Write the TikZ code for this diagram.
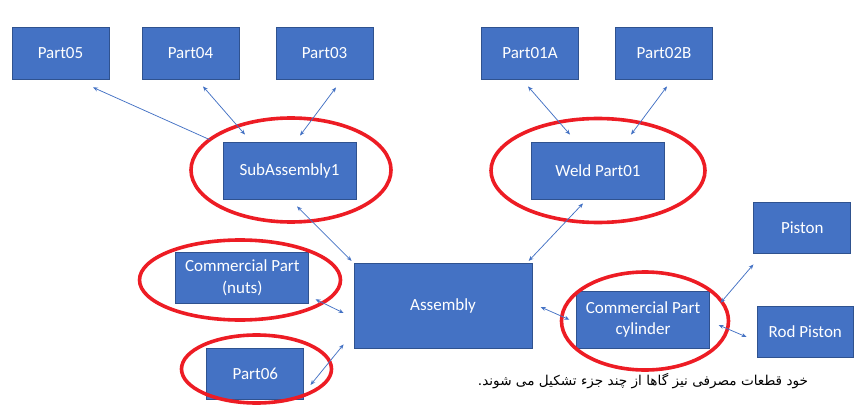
\documentclass[tikz,border=0pt]{standalone}
\usepackage{fontspec}
\setmainfont{Carlito}
\newfontfamily\persianfont[Script=Arabic]{DejaVu Sans}
\TeXXeTstate=1
\usepackage{xcolor}
\definecolor{boxblue}{HTML}{4472C4}
\definecolor{boxedge}{HTML}{2F528F}
\definecolor{ringred}{HTML}{ED1C24}
\usetikzlibrary{positioning,arrows.meta}

\begin{document}
\begin{tikzpicture}[x=1pt, y=-1pt,
  part/.style={rectangle, fill=boxblue, draw=boxedge, line width=0.8pt, text=white, align=center,
    font=\fontsize{17}{21.5}\selectfont, inner sep=2pt},
  ring/.style={draw=ringred, line width=3.6pt},
  link/.style={draw=boxblue, line width=0.75pt, {Stealth[length=5pt,width=4pt]}-{Stealth[length=5pt,width=4pt]}}]
  \useasboundingbox (0,0) rectangle (866,406);
  \node[part, minimum width=97pt, minimum height=52pt] (p05) at (60.5,53) {Part05};
  \node[part, minimum width=97pt, minimum height=52pt] (p04) at (190.5,53) {Part04};
  \node[part, minimum width=97pt, minimum height=52pt] (p03) at (324.5,53) {Part03};
  \node[part, minimum width=97pt, minimum height=52pt] (p01a) at (530,53) {Part01A};
  \node[part, minimum width=97pt, minimum height=52pt] (p02b) at (664,53) {Part02B};
  \node[part, minimum width=133pt, minimum height=57pt] (sub) at (289.5,170.5) {SubAssembly1};
  \node[part, minimum width=133pt, minimum height=57pt] (weld) at (598,170.5) {Weld Part01};
  \node[part, minimum width=178pt, minimum height=85pt] (asm) at (443,305.8) {Assembly};
  \node[part, minimum width=133pt, minimum height=51pt] (nuts) at (242.3,277.7) {Commercial Part\\(nuts)};
  \node[part, minimum width=97pt, minimum height=51pt] (p06) at (255.3,373.7) {Part06};
  \node[part, minimum width=97pt, minimum height=51pt] (piston) at (802.3,227.8) {Piston};
  \node[part, minimum width=133pt, minimum height=57pt] (cyl) at (643,319.7) {Commercial Part\\cylinder};
  \node[part, minimum width=96pt, minimum height=51pt] (rod) at (805.3,331.8) {Rod Piston};
  \draw[ring] (291,170) ellipse [x radius=100, y radius=52];
  \draw[ring] (598,170.5) ellipse [x radius=107, y radius=52];
  \draw[ring] (240,280) ellipse [x radius=100.5, y radius=40];
  \draw[ring] (256.5,369) ellipse [x radius=75, y radius=34];
  \draw[ring] (645,321) ellipse [x radius=83.5, y radius=49];
  \draw[link, {Stealth[length=5pt,width=4pt]}-] ([xshift=32.5pt,yshift=-8pt]p05.south) -- ([xshift=-13pt,yshift=2pt]sub.north west);
  \draw[link] ([xshift=12.5pt,yshift=-7pt]p04.south) -- ([xshift=-44.5pt,yshift=7pt]sub.north);
  \draw[link] ([xshift=11.5pt,yshift=-8pt]p03.south) -- ([xshift=10.5pt,yshift=6pt]sub.north);
  \draw[link] ([xshift=-2pt,yshift=-7pt]p01a.south) -- ([xshift=-28pt,yshift=7pt]weld.north);
  \draw[link] ([xshift=3pt,yshift=-7pt]p02b.south) -- ([xshift=33pt,yshift=7pt]weld.north);
  \draw[link] ([xshift=7.5pt,yshift=-7pt]sub.south) -- ([xshift=-2pt,yshift=2pt]asm.north west);
  \draw[link] ([xshift=-15pt,yshift=-4pt]weld.south) -- ([xshift=-3.7pt,yshift=2pt]asm.north east);
  \draw[link] ([xshift=6.3pt,yshift=4.3pt]nuts.south east) -- ([xshift=-10pt,yshift=-7.2pt]asm.west);
  \draw[link] ([xshift=6.3pt,yshift=-11.3pt]p06.east) -- ([xshift=-10pt,yshift=4.3pt]asm.south west);
  \draw[link] ([xshift=8.3pt,yshift=-1.2pt]asm.east) -- ([xshift=-6.7pt]cyl.west);
  \draw[link] ([xshift=10.7pt,yshift=-12pt]cyl.north east) -- ([yshift=-10.7pt]piston.south west);
  \draw[link] ([xshift=8.7pt,yshift=-5.3pt]cyl.east) -- ([xshift=-10.3pt,yshift=-5.2pt]rod.west);
  \node[font=\persianfont\fontsize{13.6}{16}\selectfont, inner sep=0pt] (note) at (643,381) {\beginR خود قطعات مصرفی نیز گاها از چند جزء تشکیل می شوند.\endR};
\end{tikzpicture}
\end{document}
